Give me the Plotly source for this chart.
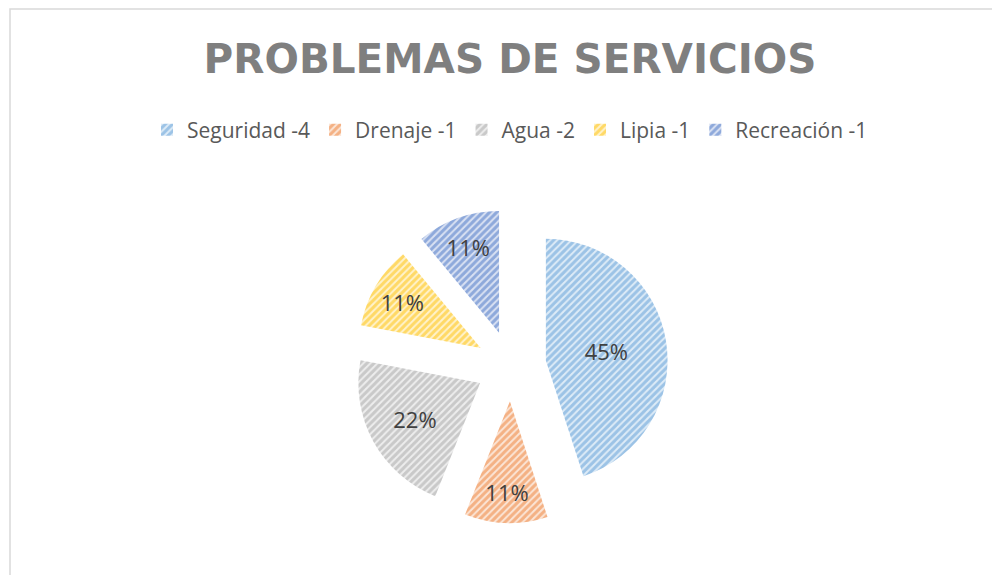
import plotly.graph_objects as go

labels = ["Seguridad -4", "Drenaje -1", "Agua -2", "Lipia -1", "Recreación -1"]
percents = [45, 11, 22, 11, 11]
fg_colors = ["#5B9BD5", "#ED7D31", "#A5A5A5", "#FFC000", "#4472C4"]
bg_colors = ["#DDEBF7", "#FBE5D6", "#EDEDED", "#FFF2CC", "#D9E1F2"]

W, H = 1000, 575
OFF = 8  # browser default body margin offsets the figure

# pie geometry (pixels in the reference picture)
CX, CY, HALF = 511, 366, 157

fig = go.Figure()
fig.add_trace(go.Pie(
    labels=labels,
    values=percents,
    sort=False,
    direction="clockwise",
    rotation=0,
    pull=[0.29] * len(labels),
    textinfo="percent",
    texttemplate="%{percent:.0%}",
    textposition="inside",
    insidetextorientation="horizontal",
    textfont=dict(family="Open Sans", size=22, color="#404040"),
    marker=dict(
        colors=bg_colors,
        line=dict(width=0),
        pattern=dict(shape="/", fgcolor=fg_colors, size=5, solidity=0.6, fillmode="overlay"),
    ),
    domain=dict(x=[(CX - HALF - OFF) / W, (CX + HALF - OFF) / W],
                y=[(H - (CY + HALF) + OFF) / H, (H - (CY - HALF) + OFF) / H]),
    hoverinfo="label+percent",
))

fig.update_layout(
    width=W, height=H,
    paper_bgcolor="white",
    margin=dict(l=0, r=0, t=0, b=0),
    title=dict(
        text="PROBLEMAS DE SERVICIOS",
        x=(510 - OFF) / W, xanchor="center",
        y=1 - (59 - OFF) / H, yanchor="middle",
        font=dict(family="DejaVu Sans", size=40.5, color="#7F7F7F", weight="bold"),
    ),
    legend=dict(
        orientation="h",
        x=(510 - OFF) / W, xanchor="center",
        y=1 - (130 - OFF) / H, yanchor="middle",
        font=dict(family="Open Sans", size=21, color="#595959"),
        itemwidth=30,
        traceorder="normal",
    ),
    shapes=[dict(
        type="rect", xref="paper", yref="paper",
        x0=(10 - OFF) / W, x1=1.02, y0=-0.02, y1=1 - (9 - OFF) / H,
        line=dict(color="#D9D9D9", width=1.5),
        fillcolor="rgba(0,0,0,0)", layer="below",
    )],
)

fig.write_html("out.html")
